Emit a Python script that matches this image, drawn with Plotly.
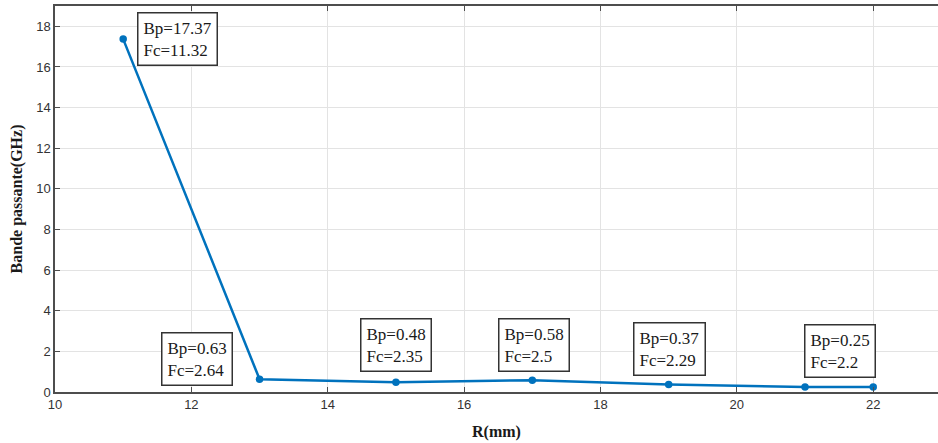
import plotly.graph_objects as go

# Data
r_mm = [11, 13, 15, 17, 19, 21, 22]
bande_passante = [17.37, 0.63, 0.48, 0.58, 0.37, 0.25, 0.25]
label_index = [0, 1, 2, 3, 4, 5]
bp_labels = ["17.37", "0.63", "0.48", "0.58", "0.37", "0.25"]
fc_labels = ["11.32", "2.64", "2.35", "2.5", "2.29", "2.2"]
x_ticks = [10, 12, 14, 16, 18, 20, 22]
y_ticks = [0, 2, 4, 6, 8, 10, 12, 14, 16, 18]

# label pixel offsets (style)
offsets = [(14, 27), (-99, 47), (-36, 64), (-34, 62), (-36, 62), (-1, 63)]

SERIF = "Liberation Serif, Times New Roman, serif"

fig = go.Figure()
fig.add_trace(go.Scatter(
    x=r_mm, y=bande_passante, mode="lines+markers",
    line=dict(color="#0072BD", width=2.5),
    marker=dict(color="#0072BD", size=7.5),
    showlegend=False, hoverinfo="x+y"))

annotations = []
for k, i in enumerate(label_index):
    dx, dy = offsets[k]
    annotations.append(dict(
        x=r_mm[i], y=bande_passante[i], xref="x", yref="y",
        text=f"Bp={bp_labels[k]}<br>Fc={fc_labels[k]}",
        showarrow=False, xanchor="left", yanchor="top", align="left",
        xshift=dx, yshift=dy,
        font=dict(family=SERIF, size=17, color="#1a1a1a"),
        bgcolor="white", bordercolor="#333333", borderwidth=1.5, borderpad=5))

axis_common = dict(
    showgrid=True, gridcolor="#e3e3e3", gridwidth=1,
    showline=True, linecolor="#4d4d4d", linewidth=1.5,
    ticks="inside", ticklen=5, tickcolor="#4d4d4d", tickwidth=1,
    tickfont=dict(family="Liberation Sans", size=13, color="#333333"),
    zeroline=False, automargin=False)

fig.update_layout(
    width=938, height=443,
    margin=dict(l=55, r=0, t=6, b=51),
    paper_bgcolor="white", plot_bgcolor="white",
    xaxis=dict(range=[10, 22.95], tickvals=x_ticks, mirror="ticks",
               title=dict(text="<b>R(mm)</b>", standoff=14,
                          font=dict(family=SERIF, size=16, color="#1a1a1a")),
               **axis_common),
    yaxis=dict(range=[0, 19], tickvals=y_ticks, mirror=False,
               title=dict(text="<b>Bande passante(GHz)</b>", standoff=10,
                          font=dict(family=SERIF, size=16, color="#1a1a1a")),
               **axis_common),
    annotations=annotations)

fig.write_html("out.html", config={"displayModeBar": False},
               post_script="document.body.style.margin='0';document.body.style.overflow='hidden';")
